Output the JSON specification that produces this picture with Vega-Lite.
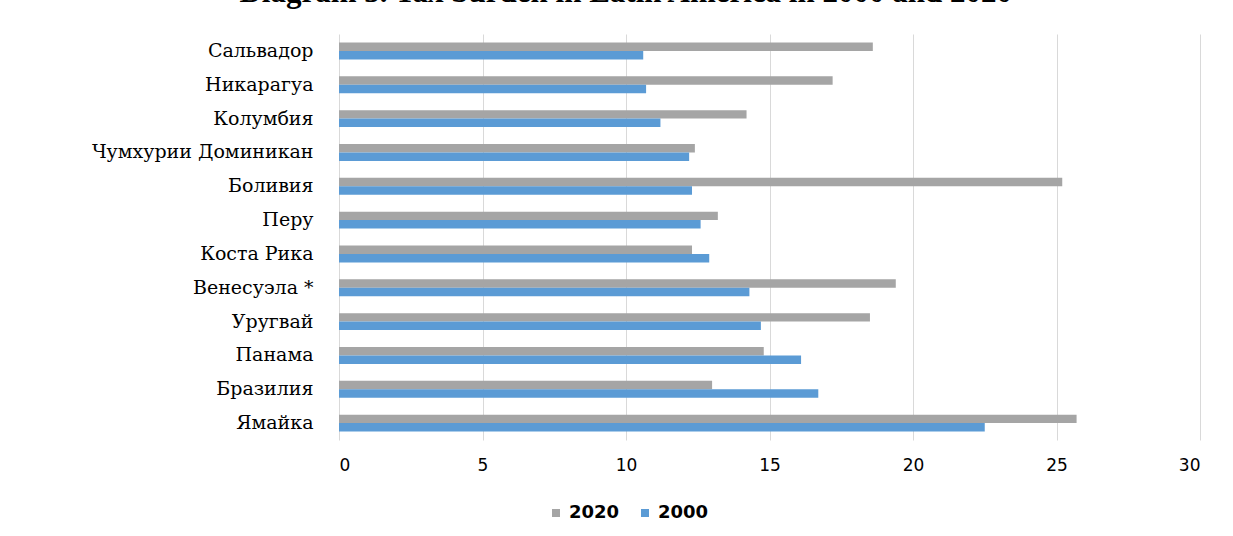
{
  "$schema": "https://vega.github.io/schema/vega-lite/v6.json",
  "autosize": {"type": "none"},
  "width": 861,
  "height": 406,
  "padding": {"left": 339, "top": 34, "right": 33, "bottom": 96},
  "background": "white",
  "title": {
    "text": "Diagram 3. Tax burden in Latin America in 2000 and 2020",
    "font": "Liberation Serif",
    "fontSize": 31,
    "fontWeight": "bold",
    "color": "black",
    "anchor": "middle",
    "frame": "bounds",
    "baseline": "alphabetic",
    "offset": 1,
    "dx": -20
  },
  "data": {
    "values": [
      {"country": "Сальвадор", "year": "2020", "value": 18.6},
      {"country": "Сальвадор", "year": "2000", "value": 10.6},
      {"country": "Никарагуа", "year": "2020", "value": 17.2},
      {"country": "Никарагуа", "year": "2000", "value": 10.7},
      {"country": "Колумбия", "year": "2020", "value": 14.2},
      {"country": "Колумбия", "year": "2000", "value": 11.2},
      {"country": "Чумхурии Доминикан", "year": "2020", "value": 12.4},
      {"country": "Чумхурии Доминикан", "year": "2000", "value": 12.2},
      {"country": "Боливия", "year": "2020", "value": 25.2},
      {"country": "Боливия", "year": "2000", "value": 12.3},
      {"country": "Перу", "year": "2020", "value": 13.2},
      {"country": "Перу", "year": "2000", "value": 12.6},
      {"country": "Коста Рика", "year": "2020", "value": 12.3},
      {"country": "Коста Рика", "year": "2000", "value": 12.9},
      {"country": "Венесуэла *", "year": "2020", "value": 19.4},
      {"country": "Венесуэла *", "year": "2000", "value": 14.3},
      {"country": "Уругвай", "year": "2020", "value": 18.5},
      {"country": "Уругвай", "year": "2000", "value": 14.7},
      {"country": "Панама", "year": "2020", "value": 14.8},
      {"country": "Панама", "year": "2000", "value": 16.1},
      {"country": "Бразилия", "year": "2020", "value": 13.0},
      {"country": "Бразилия", "year": "2000", "value": 16.7},
      {"country": "Ямайка", "year": "2020", "value": 25.7},
      {"country": "Ямайка", "year": "2000", "value": 22.5}
    ]
  },
  "mark": {"type": "bar"},
  "encoding": {
    "y": {
      "field": "country",
      "type": "nominal",
      "sort": ["Сальвадор", "Никарагуа", "Колумбия", "Чумхурии Доминикан", "Боливия", "Перу", "Коста Рика", "Венесуэла *", "Уругвай", "Панама", "Бразилия", "Ямайка"],
      "scale": {"paddingInner": 0.5, "paddingOuter": 0.25},
      "axis": {
        "title": null,
        "domain": false,
        "ticks": false,
        "grid": false,
        "labelFont": "DejaVu Serif",
        "labelFontSize": 19,
        "labelColor": "black",
        "labelPadding": 26,
        "labelLimit": 400
      }
    },
    "yOffset": {"field": "year", "type": "nominal", "sort": ["2020", "2000"]},
    "x": {
      "field": "value",
      "type": "quantitative",
      "scale": {"domain": [0, 30], "nice": false},
      "axis": {
        "title": null,
        "values": [0, 5, 10, 15, 20, 25, 30],
        "domain": false,
        "ticks": false,
        "grid": true,
        "gridColor": "#d9d9d9",
        "gridWidth": 1,
        "labelFont": "DejaVu Sans",
        "labelFontSize": 17,
        "labelColor": "black",
        "labelPadding": 17
      }
    },
    "color": {
      "field": "year",
      "type": "nominal",
      "sort": ["2020", "2000"],
      "scale": {"domain": ["2020", "2000"], "range": ["#a5a5a5", "#5b9bd5"]},
      "legend": {
        "title": null,
        "orient": "none",
        "legendX": 208,
        "legendY": 470,
        "padding": 0,
        "direction": "horizontal",
        "symbolType": "square",
        "symbolSize": 64,
        "symbolStrokeWidth": 0,
        "labelFont": "DejaVu Sans",
        "labelFontSize": 18,
        "labelFontWeight": "bold",
        "labelColor": "black",
        "labelOffset": 4,
        "columnPadding": 16
      }
    }
  },
  "config": {
    "view": {"stroke": null}
  }
}
